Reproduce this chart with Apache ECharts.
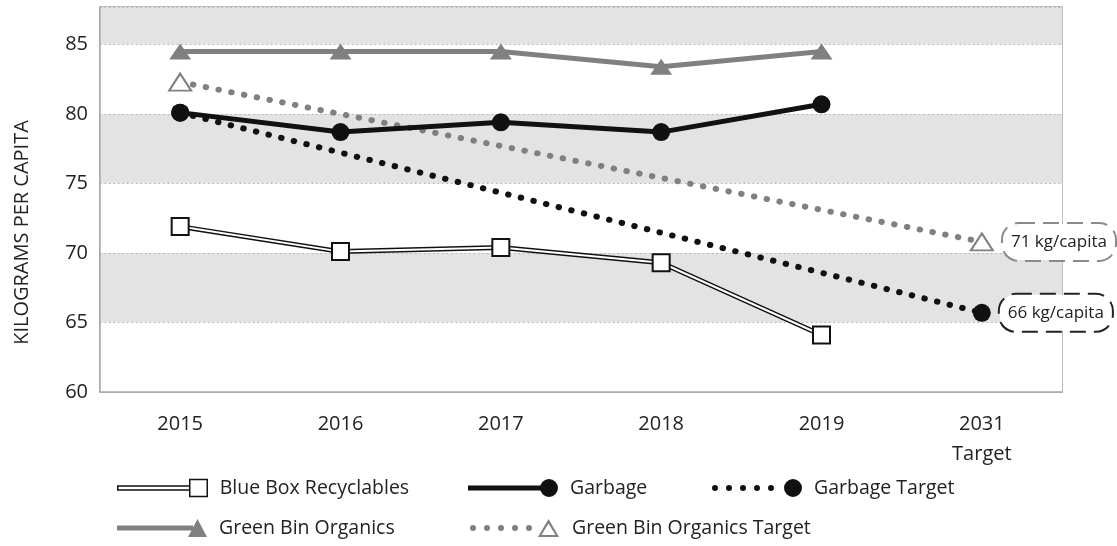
<!DOCTYPE html>
<html>
<head>
<meta charset="utf-8">
<script src="https://cdn.jsdelivr.net/npm/echarts@6/dist/echarts.min.js"></script>
<style>html,body{margin:0;padding:0;background:#fff}#c{width:1117px;height:546px}</style>
</head>
<body>
<div id="c"></div>
<script>
const categories = ['2015', '2016', '2017', '2018', '2019', '2031\nTarget'];
const blueBox = [71.9, 70.1, 70.4, 69.3, 64.1, null];
const garbage = [80.1, 78.7, 79.4, 78.7, 80.7, null];
const greenBin = [84.5, 84.5, 84.5, 83.4, 84.5, null];
const garbageTarget = [80.1, null, null, null, null, 65.7];
const greenBinTarget = [82.3, null, null, null, null, 70.8];
const targetLabels = { garbage: '66 kg/capita', greenBin: '71 kg/capita' };
const yTicks = { min: 60, max: 87.7, interval: 5 };
const yAxisName = 'KILOGRAMS PER CAPITA';
const seriesNames = ['Blue Box Recyclables', 'Garbage', 'Garbage Target', 'Green Bin Organics', 'Green Bin Organics Target'];

const FONT = "'Open Sans', 'Noto Sans', sans-serif";
const GRAY = '#808080';
const BLACK = '#111';

function dots() {
  let p = '';
  for (let i = 0; i < 5; i++) {
    const cx = 3 + i * 14;
    p += `M${cx - 3} 9 A3 3 0 1 1 ${cx + 3} 9 A3 3 0 1 1 ${cx - 3} 9 Z `;
  }
  return p;
}
const circleEnd = 'M72 9 A9 9 0 1 1 90 9 A9 9 0 1 1 72 9 Z ';
const pad = 'M97 9 ';
const icons = {
  blue: 'path://M0 7 L72 7 L72 11 L0 11 Z M72 0.5 L89.5 0.5 L89.5 17.5 L72 17.5 Z ' + pad,
  garbage: 'path://M0 6.5 L76 6.5 L76 11.5 L0 11.5 Z ' + circleEnd + pad,
  garbageT: 'path://' + dots() + circleEnd + pad,
  green: 'path://M0 6.5 L76 6.5 L76 11.5 L0 11.5 Z M71 18 L80.5 0 L90 18 Z ' + pad,
  greenT: 'path://' + dots() + 'M68 18 L78.5 0 L89 18 Z M71.5 16 L85.5 16 L78.5 4.5 Z ' + pad
};

function legend(name, icon, left, top, itemStyle) {
  return {
    left: left, top: top, padding: 0, itemWidth: 97, itemHeight: 18,
    selectedMode: false,
    textStyle: { fontFamily: FONT, fontSize: 19.5, color: '#222' },
    data: [{ name: name, icon: icon, itemStyle: itemStyle }]
  };
}

const chart = echarts.init(document.getElementById('c'), null, { renderer: 'canvas' });
chart.setOption({
  animation: false,
  textStyle: { fontFamily: FONT },
  grid: { left: 100, right: 55, top: 7, bottom: 154, show: true, borderColor: '#a8a8a8', borderWidth: 1.5, backgroundColor: 'transparent' },
  legend: [
    legend(seriesNames[0], icons.blue, 117, 478, { color: '#fff', borderColor: BLACK, borderWidth: 1.5 }),
    legend(seriesNames[1], icons.garbage, 468, 478, { color: BLACK, borderWidth: 0 }),
    legend(seriesNames[2], icons.garbageT, 712, 478, { color: BLACK, borderWidth: 0 }),
    legend(seriesNames[3], icons.green, 117, 518, { color: GRAY, borderWidth: 0 }),
    legend(seriesNames[4], icons.greenT, 470, 518, { color: GRAY, borderWidth: 0 })
  ],
  xAxis: {
    type: 'category', data: categories, boundaryGap: true,
    axisLine: { lineStyle: { color: '#a8a8a8', width: 1.5 } },
    axisTick: { show: false },
    axisLabel: { fontFamily: FONT, fontSize: 20, color: '#222', margin: 17, lineHeight: 30 }
  },
  yAxis: {
    type: 'value', min: yTicks.min, max: yTicks.max, interval: yTicks.interval,
    name: yAxisName, nameLocation: 'middle', nameRotate: 90, nameGap: 68,
    nameTextStyle: { fontFamily: FONT, fontSize: 20, color: '#222', padding: [0, 66, 0, 0] },
    axisLine: { show: true, lineStyle: { color: '#a8a8a8', width: 1.5 } },
    axisTick: { show: false },
    axisLabel: { fontFamily: FONT, fontSize: 20, color: '#222', margin: 12, showMaxLabel: false },
    splitLine: { show: true, lineStyle: { color: '#b0b0b0', type: [1.5, 3], width: 1 } },
    splitArea: { show: true, areaStyle: { color: ['#ffffff', '#e3e3e3'] } }
  },
  series: [
    {
      name: seriesNames[4], type: 'line', data: greenBinTarget.map((v, i) => i === 5 ? {
        value: v, label: {
          show: true, position: 'right', distance: 9, formatter: targetLabels.greenBin,
          fontFamily: FONT, fontSize: 17, color: '#222', backgroundColor: '#fff',
          borderColor: '#8a8a8a', borderWidth: 2, borderType: 'dashed', borderRadius: 16, padding: [10, 8, 9, 8]
        }
      } : v),
      connectNulls: true, symbol: 'triangle', symbolSize: [22, 17],
      itemStyle: { color: '#fff', borderColor: GRAY, borderWidth: 2 },
      lineStyle: { color: GRAY, width: 6, type: [0.5, 12.5], cap: 'round' }, z: 2
    },
    {
      name: seriesNames[2], type: 'line', data: garbageTarget.map((v, i) => i === 5 ? {
        value: v, label: {
          show: true, position: 'right', distance: 9, formatter: targetLabels.garbage,
          fontFamily: FONT, fontSize: 17, color: '#222', backgroundColor: '#fff',
          borderColor: '#222', borderWidth: 2, borderType: 'dashed', borderRadius: 16, padding: [10, 8, 9, 8]
        }
      } : v),
      connectNulls: true, symbol: 'circle', symbolSize: 18,
      itemStyle: { color: BLACK, borderWidth: 0 },
      lineStyle: { color: BLACK, width: 6, type: [0.5, 12.5], cap: 'round' }, z: 2
    },
    {
      name: 'bbOutline', type: 'line', data: blueBox, symbol: 'none', silent: true,
      lineStyle: { color: BLACK, width: 5 }, z: 3
    },
    {
      name: seriesNames[0], type: 'line', data: blueBox, symbol: 'rect', symbolSize: 17,
      itemStyle: { color: '#fff', borderColor: BLACK, borderWidth: 2 },
      lineStyle: { color: '#fff', width: 2 }, z: 4
    },
    {
      name: seriesNames[1], type: 'line', data: garbage, symbol: 'circle', symbolSize: 18,
      itemStyle: { color: BLACK, borderWidth: 0 },
      lineStyle: { color: BLACK, width: 5 }, z: 5
    },
    {
      name: seriesNames[3], type: 'line', data: greenBin, symbol: 'triangle', symbolSize: [22, 16],
      itemStyle: { color: GRAY, borderWidth: 0 },
      lineStyle: { color: GRAY, width: 5 }, z: 5
    }
  ]
});
</script>
</body>
</html>
